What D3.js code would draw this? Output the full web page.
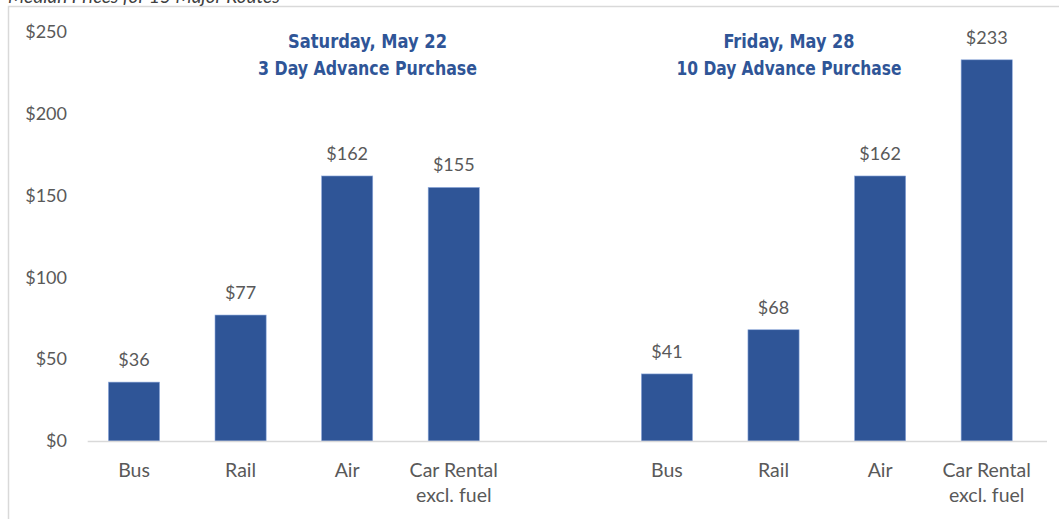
<!DOCTYPE html>
<html>
<head>
<meta charset="utf-8">
<script src="https://cdn.jsdelivr.net/npm/d3@7"></script>
<style>
  html, body { margin: 0; padding: 0; background: #fff; }
  svg { display: block; }
</style>
</head>
<body>
<div id="chart"></div>
<script>
// chart data
const categories = ["Bus", "Rail", "Air", "Car Rental\nexcl. fuel"];
const groupTitles = ["Saturday, May 22", "Friday, May 28"];
const groupSubtitles = ["3 Day Advance Purchase", "10 Day Advance Purchase"];
const saturdayPrices = [36, 77, 162, 155];
const fridayPrices = [41, 68, 162, 233];
const yTicks = [0, 50, 100, 150, 200, 250];
const cutTitle = "Median Prices for 15 Major Routes";

let width = 1059;
let height = 519;
let barColor = "#2f5597";
let textColor = "#595959";

// one slot per bar, with an empty slot between the two groups
let slots = [];
categories.forEach((c, i) => slots.push({ key: "a" + i, label: c, value: saturdayPrices[i] }));
slots.push({ key: "gap", label: "", value: null });
categories.forEach((c, i) => slots.push({ key: "b" + i, label: c, value: fridayPrices[i] }));

let svg = d3.select("#chart").append("svg")
    .attr("width", width)
    .attr("height", height);

// frame (the picture is cropped so only the left and top edges show)
svg.append("rect")
    .attr("x", 8.5).attr("y", 6.5)
    .attr("width", width + 10).attr("height", height + 10)
    .attr("fill", "none")
    .attr("stroke", "#d9d9d9")
    .attr("stroke-width", 1.5);

// title cut off at the top edge
svg.append("text")
    .attr("x", 8).attr("y", 3)
    .attr("font-family", "Lato, sans-serif")
    .attr("font-style", "italic")
    .attr("font-size", 19)
    .attr("fill", "#404040")
    .text(cutTitle);

let x = d3.scaleBand()
    .domain(slots.map(d => d.key))
    .range([80.7, 1040])
    .paddingInner(0.52)
    .paddingOuter(0.26);

let y = d3.scaleLinear()
    .domain([0, 250])
    .range([441, 32]);

// y axis, labels only
svg.append("g")
    .attr("transform", "translate(75,0)")
    .call(d3.axisLeft(y).tickValues(yTicks).tickSize(0).tickPadding(8).tickFormat(d => "$" + d))
    .call(g => g.select(".domain").remove())
    .call(g => g.selectAll("text")
        .attr("font-family", "Lato, sans-serif")
        .attr("font-size", 18)
        .attr("fill", textColor));

// bars
svg.append("g")
    .selectAll("rect")
    .data(slots.filter(d => d.value !== null))
    .join("rect")
    .attr("x", d => x(d.key))
    .attr("width", x.bandwidth())
    .attr("y", d => y(d.value))
    .attr("height", d => y(0) - y(d.value))
    .attr("fill", barColor)
    .attr("stroke", "#8faadc")
    .attr("stroke-width", 0.6);

// value labels
svg.append("g")
    .selectAll("text")
    .data(slots.filter(d => d.value !== null))
    .join("text")
    .attr("x", d => x(d.key) + x.bandwidth() / 2)
    .attr("y", d => y(d.value) - 16)
    .attr("text-anchor", "middle")
    .attr("font-family", "Lato, sans-serif")
    .attr("font-size", 18)
    .attr("fill", textColor)
    .text(d => "$" + d.value);

// baseline
svg.append("line")
    .attr("x1", x.range()[0] + 7)
    .attr("x2", x.range()[1] + 7)
    .attr("y1", y(0) + 0.5)
    .attr("y2", y(0) + 0.5)
    .attr("stroke", "#d9d9d9")
    .attr("stroke-width", 1.5);

// category labels
let xAxisG = svg.append("g")
    .attr("transform", `translate(0,${y(0)})`)
    .call(d3.axisBottom(x).tickSize(0).tickFormat(""));
xAxisG.select(".domain").remove();
xAxisG.selectAll(".tick").each(function (key) {
    let slot = slots.find(s => s.key === key);
    let t = d3.select(this).select("text")
        .attr("y", 36)
        .attr("dy", 0)
        .attr("font-family", "Lato, sans-serif")
        .attr("font-size", 19.5)
        .attr("fill", textColor);
    slot.label.split("\n").forEach((line, i) => {
        t.append("tspan")
            .attr("x", 0)
            .attr("y", 36 + i * 25)
            .text(line);
    });
});

// group headings
let headings = [
    { cx: 367.5, lines: [groupTitles[0], groupSubtitles[0]], widths: [159, 219] },
    { cx: 789, lines: [groupTitles[1], groupSubtitles[1]], widths: [131, 225] }
];
headings.forEach(h => {
    h.lines.forEach((line, i) => {
        svg.append("text")
            .attr("x", h.cx)
            .attr("y", 48 + i * 27)
            .attr("text-anchor", "middle")
            .attr("font-family", "'DejaVu Sans Condensed', 'DejaVu Sans', sans-serif")
            .attr("font-stretch", "condensed")
            .attr("font-weight", "bold")
            .attr("font-size", 19.5)
            .attr("fill", barColor)
            .attr("textLength", h.widths[i])
            .attr("lengthAdjust", "spacingAndGlyphs")
            .text(line);
    });
});
</script>
</body>
</html>
